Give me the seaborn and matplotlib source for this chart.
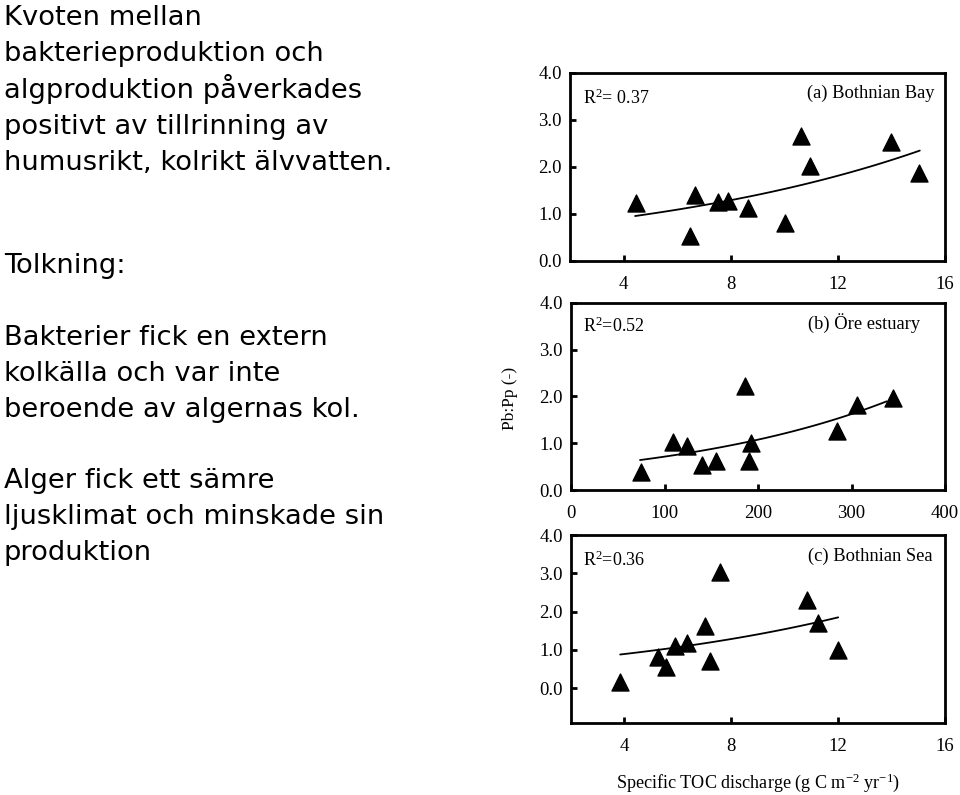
import numpy as np
import pandas as pd
import seaborn as sns
import matplotlib.pyplot as plt

# data
bay_x = [4.46, 6.48, 6.66, 7.53, 7.91, 8.65, 10.02, 10.64, 10.96, 14.0, 15.04]
bay_y = [1.23, 0.54, 1.40, 1.26, 1.28, 1.13, 0.81, 2.66, 2.02, 2.54, 1.88]

ore_x = [74.5, 108.7, 123.7, 140.5, 155, 186, 193, 190.7, 285, 305.5, 344]
ore_y = [0.38, 1.02, 0.93, 0.53, 0.63, 2.22, 1.00, 0.63, 1.26, 1.81, 1.96]

sea_x = [3.84, 5.26, 5.54, 5.88, 6.35, 7.03, 7.22, 7.57, 10.85, 11.24, 12.0]
sea_y = [0.16, 0.82, 0.55, 1.10, 1.19, 1.63, 0.70, 3.03, 2.31, 1.70, 1.01]

# exponential trendlines y = a*exp(b*x)
trend_a = [0.658, 0.473, 0.620]
trend_b = [0.0845, 0.00411, 0.0911]
trend_x0 = [4.43, 73.8, 3.84]
trend_x1 = [15.06, 337.6, 12.0]

r2_labels = ["R$^{2}$= 0.37", "R$^{2}$=0.52", "R$^{2}$=0.36"]
panel_titles = ["(a) Bothnian Bay", "(b) Öre estuary", "(c) Bothnian Sea"]

sns.set_theme(style="ticks")
plt.rcParams['font.family'] = ['Liberation Serif', 'DejaVu Serif']
plt.rcParams['mathtext.fontset'] = 'custom'
plt.rcParams['mathtext.rm'] = 'Liberation Serif'
plt.rcParams['mathtext.it'] = 'Liberation Serif:italic'
plt.rcParams['text.color'] = 'black'

fig = plt.figure(figsize=(9.6, 7.95), dpi=100)

axes_pos = [
    [0.59375, 0.6717, 0.3906, 0.2365],
    [0.5948, 0.3836, 0.3896, 0.2356],
    [0.5948, 0.0910, 0.3896, 0.2360],
]
r2_pos = [(0.035, 0.867), (0.032, 0.872), (0.032, 0.867)]
title_pos = [(0.973, 0.894), (0.933, 0.89), (0.967, 0.888)]
xlims = [(2, 16), (0, 400), (2, 16)]
xticks = [[4, 8, 12, 16], [0, 100, 200, 300, 400], [4, 8, 12, 16]]
ylims = [(0, 4), (0, 4), (-0.9, 4)]

datasets = [(bay_x, bay_y), (ore_x, ore_y), (sea_x, sea_y)]

for i, (xs, ys) in enumerate(datasets):
    ax = fig.add_axes(axes_pos[i])
    df = pd.DataFrame({"x": xs, "y": ys})
    sns.scatterplot(data=df, x="x", y="y", marker="^", s=150, color="black",
                    edgecolor="black", ax=ax, zorder=3)

    fx = np.linspace(trend_x0[i], trend_x1[i], 100)
    fit = pd.DataFrame({"x": fx, "y": trend_a[i] * np.exp(trend_b[i] * fx)})
    sns.lineplot(data=fit, x="x", y="y", color="black", lw=1.3, ax=ax)

    ax.set_xlim(*xlims[i])
    ax.set_ylim(*ylims[i])
    ax.set_xticks(xticks[i])
    ax.set_yticks([0, 1, 2, 3, 4])
    ax.set_yticklabels(["0.0", "1.0", "2.0", "3.0", "4.0"])
    ax.set_xlabel("")
    ax.set_ylabel("")
    for sp in ax.spines.values():
        sp.set_linewidth(2.0)
        sp.set_color("black")
    ax.tick_params(direction="in", length=4, width=2, labelsize=13.5,
                   colors="black")
    ax.tick_params(axis="x", pad=11)
    ax.tick_params(axis="y", pad=6)

    ax.text(r2_pos[i][0], r2_pos[i][1], r2_labels[i], transform=ax.transAxes,
            fontsize=13, ha="left", va="center")
    ax.text(title_pos[i][0], title_pos[i][1], panel_titles[i],
            transform=ax.transAxes, fontsize=13.3, ha="right", va="center")

fig.text(0.531, 0.499, "Pb:Pp (-)", rotation=90, fontsize=12.5,
         ha="center", va="center")
fig.text(0.79, 0.015, "Specific TOC discharge (g C m$^{-2}$ yr$^{-1}$)",
         fontsize=13.1, ha="center", va="center")

# Swedish text on the left, one line at a time (baselines in pixels)
intro = ["Kvoten mellan", "bakterieproduktion och", "algproduktion påverkades",
         "positivt av tillrinning av", "humusrikt, kolrikt älvvatten."]
tolk = ["Tolkning:"]
bakt = ["Bakterier fick en extern", "kolkälla och var inte",
        "beroende av algernas kol."]
alger = ["Alger fick ett sämre", "ljusklimat och minskade sin", "produktion"]

blocks = [(intro, 25, 36.3), (tolk, 273, 0), (bakt, 345, 36), (alger, 488, 36)]
for lines, base, step in blocks:
    for k, line in enumerate(lines):
        yb = base + k * step
        fig.text(0.004, 1 - yb / 795, line, fontsize=19.7,
                 family=['DejaVu Sans'], va="baseline", ha="left")

plt.savefig("out.png", dpi=100)
